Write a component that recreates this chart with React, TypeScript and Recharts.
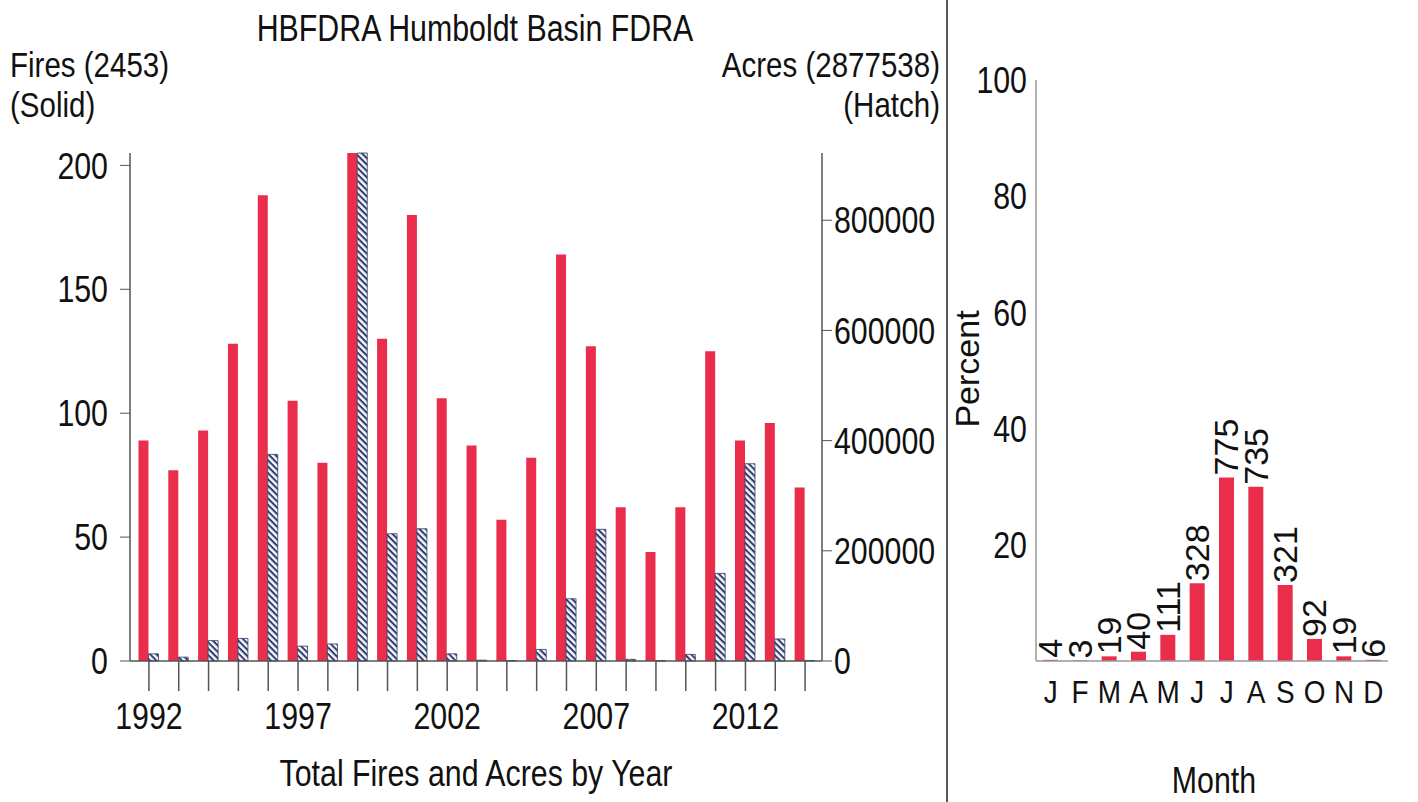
import React from 'react';
import { BarChart, Bar, XAxis, YAxis, LabelList } from 'recharts';

// yearly totals (left panel)
const years = ['1992', '1993', '1994', '1995', '1996', '1997', '1998', '1999', '2000', '2001', '2002', '2003',
  '2004', '2005', '2006', '2007', '2008', '2009', '2010', '2011', '2012', '2013', '2014'];
const fires = [89, 77, 93, 128, 188, 105, 80, 205, 130, 180, 106, 87, 57, 82, 164, 127, 62, 44, 62, 125, 89, 96, 70];
const acres = [13000, 7000, 37000, 41000, 375000, 27000, 31000, 922000, 231000, 240000, 13000, 1500, 800,
  21000, 113000, 239000, 3000, 500, 12000, 159000, 358000, 40000, 1000];
const labelledYears = ['1992', '1997', '2002', '2007', '2012'];
const fireTicks = [0, 50, 100, 150, 200];
const acreTicks = [0, 200000, 400000, 600000, 800000];

// monthly distribution (right panel)
const months = ['J', 'F', 'M', 'A', 'M', 'J', 'J', 'A', 'S', 'O', 'N', 'D'];
const monthCounts = [4, 3, 19, 40, 111, 328, 775, 735, 321, 92, 19, 6];
const monthPercent = [0.2, 0.1, 0.8, 1.6, 4.5, 13.4, 31.6, 30.0, 13.1, 3.8, 0.8, 0.2];
const percentTicks = [20, 40, 60, 80, 100];

const yearData = years.map((year, i) => ({ year, fires: fires[i], acres: acres[i] }));
const monthData = months.map((month, i) => ({ month, count: monthCounts[i], percent: monthPercent[i] }));

const SANS = "'Liberation Sans', Arial, sans-serif";
const RED = '#ea2d4b';
const NAVY = '#2f3d6b';
const AXIS = '#555';
const INK = '#111';

// condensed-looking text: Liberation Sans squeezed horizontally
const SText = ({ x, y, anchor = 'start', size = 37, sx = 0.82, children }: any) => (
  <text transform={`translate(${x} ${y}) scale(${sx} 1)`} textAnchor={anchor} dominantBaseline="central"
    fontFamily={SANS} fontSize={size} fill={INK}>
    {children}
  </text>
);

const YearTick = (props: any) => {
  const { x, y, payload } = props;
  if (!labelledYears.includes(payload.value)) return <g />;
  return <SText x={x} y={y + 25} anchor="middle">{payload.value}</SText>;
};

const FireTick = (props: any) => <SText x={props.x} y={props.y} anchor="end">{props.payload.value}</SText>;
const AcreTick = (props: any) => <SText x={props.x} y={props.y} anchor="start">{props.payload.value}</SText>;
const PercentTick = (props: any) => <SText x={props.x} y={props.y} anchor="end">{props.payload.value}</SText>;
const MonthTick = (props: any) => (
  <SText x={props.x} y={props.y + 10} anchor="middle" size={31} sx={0.9}>{props.payload.value}</SText>
);

const CountLabel = (props: any) => {
  const { x, y, width, value } = props;
  const cx = x + width / 2;
  const cy = y - 2;
  return (
    <text x={cx} y={cy} transform={`rotate(-90 ${cx} ${cy})`} textAnchor="start" dominantBaseline="central"
      fontFamily={SANS} fontSize={34} fill={INK}>
      {value}
    </text>
  );
};

export default function App() {
  return (
    <div style={{ position: 'absolute', left: 0, top: 0, width: 1418, height: 802, background: '#fff' }}>
      <div style={{ position: 'absolute', left: 0, top: 0 }}>
        <BarChart width={945} height={802} data={yearData} barCategoryGap="15%" barGap={0}
          margin={{ top: 153, right: 0, bottom: 61, left: 0 }}>
          <defs>
            <pattern id="hatch" patternUnits="userSpaceOnUse" width={4.5} height={4.5} patternTransform="rotate(45)">
              <rect width={4.5} height={4.5} fill="#f4f6fb" />
              <rect width={4.5} height={2} fill={NAVY} />
            </pattern>
          </defs>
          <XAxis dataKey="year" interval={0} padding={{ left: 4, right: 2 }} height={80}
            tick={<YearTick />} tickSize={30} tickMargin={0}
            axisLine={{ stroke: AXIS, strokeWidth: 1.5 }} tickLine={{ stroke: AXIS, strokeWidth: 1.5 }} />
          <YAxis yAxisId="fires" width={130} domain={[0, 'dataMax']} ticks={fireTicks}
            tick={<FireTick />} tickSize={10} tickMargin={12}
            axisLine={{ stroke: AXIS, strokeWidth: 1.5 }} tickLine={{ stroke: AXIS }} />
          <YAxis yAxisId="acres" orientation="right" width={123} domain={[0, 'dataMax']} ticks={acreTicks}
            tick={<AcreTick />} tickSize={10} tickMargin={2}
            axisLine={{ stroke: AXIS, strokeWidth: 1.5 }} tickLine={{ stroke: AXIS }} />
          <Bar yAxisId="fires" dataKey="fires" fill={RED} isAnimationActive={false} />
          <Bar yAxisId="acres" dataKey="acres" fill="url(#hatch)" stroke={NAVY} strokeWidth={0.8}
            isAnimationActive={false} />
        </BarChart>
      </div>

      <div style={{ position: 'absolute', left: 945, top: 0 }}>
        <BarChart width={473} height={802} data={monthData} barSize={15}
          margin={{ top: 80, right: 30, bottom: 81, left: 0 }}>
          <XAxis dataKey="month" interval={0} height={60} tickSize={0} tickMargin={21}
            tick={<MonthTick />} axisLine={{ stroke: '#999', strokeWidth: 1.5 }} tickLine={false} />
          <YAxis width={91} domain={[0, 100]} ticks={percentTicks} tickSize={0} tickMargin={9}
            tick={<PercentTick />} axisLine={{ stroke: '#999', strokeWidth: 1.5 }} tickLine={false} />
          <Bar dataKey="percent" fill={RED} isAnimationActive={false}>
            <LabelList dataKey="count" content={<CountLabel />} />
          </Bar>
        </BarChart>
      </div>

      <svg width={1418} height={802} style={{ position: 'absolute', left: 0, top: 0, pointerEvents: 'none' }}>
        <line x1={947} y1={0} x2={947} y2={802} stroke="#222" strokeWidth={1.5} />
        <SText x={475} y={28} anchor="middle">HBFDRA Humboldt Basin FDRA</SText>
        <SText x={10} y={64} size={36}>Fires (2453)</SText>
        <SText x={10} y={104} size={36}>(Solid)</SText>
        <SText x={940} y={64} anchor="end" size={36}>Acres (2877538)</SText>
        <SText x={940} y={104} anchor="end" size={36}>(Hatch)</SText>
        <SText x={476} y={773} anchor="middle">Total Fires and Acres by Year</SText>
        <SText x={1214} y={780} anchor="middle">Month</SText>
        <text x={967} y={369} transform="rotate(-90 967 369)" textAnchor="middle" dominantBaseline="central"
          fontFamily={SANS} fontSize={34} fill={INK}>Percent</text>
      </svg>
    </div>
  );
}
